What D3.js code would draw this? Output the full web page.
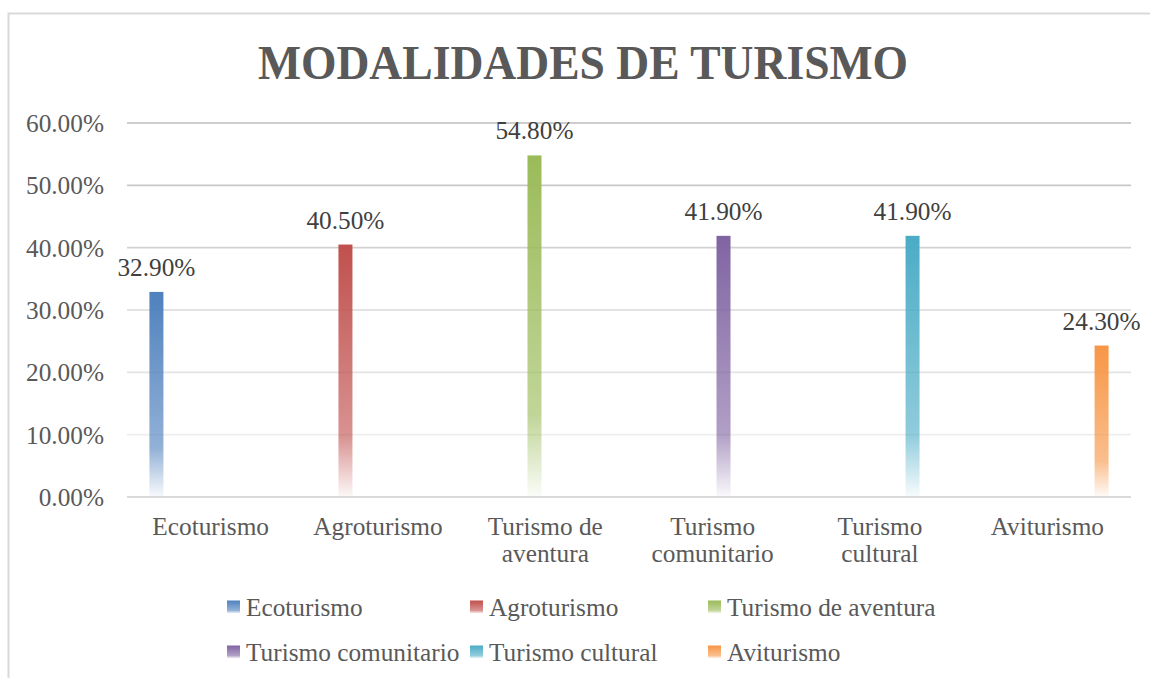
<!DOCTYPE html>
<html>
<head>
<meta charset="utf-8">
<script src="https://cdn.jsdelivr.net/npm/d3@7"></script>
<style>
  html, body { margin: 0; padding: 0; background: #fff; }
  svg { display: block; }
  text { font-family: "Liberation Serif", "Times New Roman", serif; }
</style>
</head>
<body>
<svg id="chart" width="1150" height="678"></svg>
<script>
const title = "MODALIDADES DE TURISMO";
const categories = ["Ecoturismo", "Agroturismo", "Turismo de aventura", "Turismo comunitario", "Turismo cultural", "Aviturismo"];
const categoryLines = [["Ecoturismo"], ["Agroturismo"], ["Turismo de", "aventura"], ["Turismo", "comunitario"], ["Turismo", "cultural"], ["Aviturismo"]];
const seriesNames = ["Ecoturismo", "Agroturismo", "Turismo de aventura", "Turismo comunitario", "Turismo cultural", "Aviturismo"];
const seriesValues = [0.329, 0.405, 0.548, 0.419, 0.419, 0.243];
const seriesColors = ["#4F81BD", "#C0504D", "#9BBB59", "#8064A2", "#4BACC6", "#F79646"];
const yTicks = [0, 0.1, 0.2, 0.3, 0.4, 0.5, 0.6];

const svg = d3.select("#chart");
const FS = "25.3px";

// outer chart border (extends past right/bottom edges)
svg.append("rect").attr("x", 8.5).attr("y", 13.5).attr("width", 1200).attr("height", 700)
  .attr("fill", "#fff").attr("stroke", "#d9d9d9").attr("stroke-width", 2);

const plot = { left: 127, right: 1131, top: 123, bottom: 497 };

const y = d3.scaleLinear().domain([0, 0.6]).range([plot.bottom, plot.top]);
const x0 = d3.scaleBand().domain(categories).range([plot.left, plot.right]).padding(0);
const groupW = 5 * 21.7 + 14;
const x1 = d3.scaleBand().domain(seriesNames)
  .range([x0.bandwidth() / 2 - groupW / 2, x0.bandwidth() / 2 + groupW / 2])
  .paddingInner(7.7 / 21.7).paddingOuter(0);

// gradients
const defs = svg.append("defs");
seriesColors.forEach((c, i) => {
  const g = defs.append("linearGradient").attr("id", "grad" + i)
    .attr("x1", 0).attr("y1", 0).attr("x2", 0).attr("y2", 1);
  g.append("stop").attr("offset", "0%").attr("stop-color", c).attr("stop-opacity", 1);
  g.append("stop").attr("offset", "76%").attr("stop-color", c).attr("stop-opacity", 0.62);
  g.append("stop").attr("offset", "100%").attr("stop-color", c).attr("stop-opacity", 0.04);
});

// gridlines
const gridColor = d3.scaleLinear().domain([0.1, 0.6]).range(["#eeeeee", "#bdbdbd"]);
svg.append("g").selectAll("line").data(yTicks.filter(t => t > 0)).join("line")
  .attr("x1", plot.left).attr("x2", plot.right)
  .attr("y1", d => y(d)).attr("y2", d => y(d))
  .attr("stroke", d => gridColor(d)).attr("stroke-width", 1.6);

// y axis
const yAxis = d3.axisLeft(y).tickValues(yTicks).tickFormat(d => (d * 100).toFixed(2) + "%").tickSize(0).tickPadding(23);
const yg = svg.append("g").attr("transform", `translate(${plot.left},0)`).call(yAxis);
yg.select(".domain").remove();
yg.selectAll("text").attr("fill", "#595959").attr("font-size", FS)
  .attr("font-family", "Liberation Serif, serif").attr("dy", "0.34em");

// bars
const bars = svg.append("g");
seriesNames.forEach((s, i) => {
  const cat = categories[i];
  const v = seriesValues[i];
  const bx = x0(cat) + x1(s);
  bars.append("rect")
    .attr("x", bx).attr("y", y(v))
    .attr("width", x1.bandwidth()).attr("height", y(0) - y(v))
    .attr("fill", `url(#grad${i})`);
  bars.append("text")
    .attr("x", bx + x1.bandwidth() / 2).attr("y", y(v) - 16)
    .attr("text-anchor", "middle").attr("fill", "#404040").attr("font-size", FS)
    .text((v * 100).toFixed(2) + "%");
});

// baseline
svg.append("line").attr("x1", plot.left).attr("x2", plot.right)
  .attr("y1", y(0)).attr("y2", y(0)).attr("stroke", "#d9d9d9").attr("stroke-width", 2);

// x axis labels
const xl = svg.append("g");
categories.forEach((c, i) => {
  const t = xl.append("text").attr("text-anchor", "middle").attr("fill", "#595959").attr("font-size", FS);
  categoryLines[i].forEach((ln, j) => {
    t.append("tspan").attr("x", x0(c) + x0.bandwidth() / 2).attr("y", 535 + j * 27).text(ln);
  });
});

// title
svg.append("text").attr("transform", "translate(583,79) scale(1,1.08)").attr("text-anchor", "middle")
  .attr("font-size", "45.6px").attr("font-weight", "bold").attr("fill", "#595959").text(title);

// legend
const legendPos = [[227, 607], [470, 607], [708, 607], [227, 652], [470, 652], [708, 652]];
const lg = svg.append("g");
seriesNames.forEach((s, i) => {
  const [lx, ly] = legendPos[i];
  lg.append("rect").attr("x", lx).attr("y", ly - 6.5).attr("width", 13).attr("height", 13)
    .attr("fill", `url(#grad${i})`);
  lg.append("text").attr("x", lx + 19).attr("y", ly + 9).attr("fill", "#595959")
    .attr("font-size", FS).text(s);
});
</script>
</body>
</html>
